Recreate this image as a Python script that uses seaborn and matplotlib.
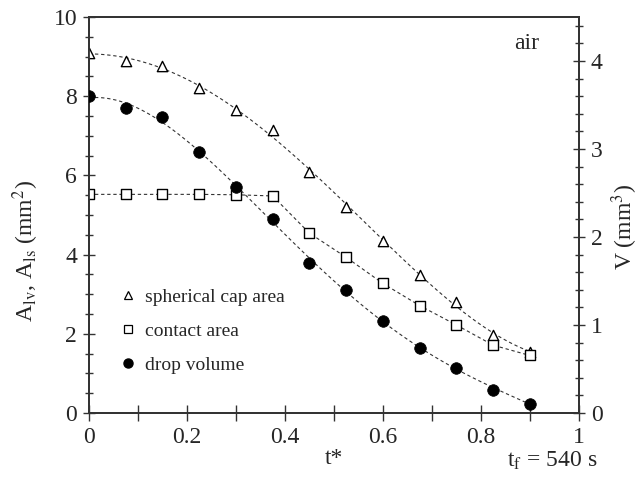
import numpy as np
import pandas as pd
import matplotlib
matplotlib.use("Agg")
import matplotlib.pyplot as plt
from matplotlib.lines import Line2D
from matplotlib.ticker import MultipleLocator
import seaborn as sns

# normalised time t* = t / t_f
t_star = [0.0, 0.075, 0.15, 0.225, 0.3, 0.375, 0.45, 0.525, 0.6, 0.675, 0.75, 0.825, 0.9]
# spherical cap (liquid-vapour) area, mm^2
cap_area = [9.10, 8.90, 8.76, 8.21, 7.64, 7.15, 6.09, 5.21, 4.33, 3.48, 2.80, 1.97, 1.55]
# contact (liquid-solid) area, mm^2
contact_area = [5.52, 5.52, 5.52, 5.52, 5.51, 5.48, 4.54, 3.93, 3.27, 2.71, 2.22, 1.71, 1.45]
# drop volume, mm^3
drop_volume = [3.60, 3.46, 3.36, 2.97, 2.57, 2.20, 1.70, 1.40, 1.05, 0.735, 0.515, 0.265, 0.106]

df = pd.DataFrame({"t": t_star, "cap": cap_area, "contact": contact_area, "vol": drop_volume})

sns.set_theme(style="ticks")
plt.rcParams["font.family"] = ["Liberation Serif", "DejaVu Serif"]
plt.rcParams["mathtext.fontset"] = "stix"
plt.rcParams["axes.edgecolor"] = "#333333"
plt.rcParams["axes.linewidth"] = 1.3

fig = plt.figure(figsize=(6.44, 4.79), dpi=100)
ax = fig.add_axes([0.138, 0.138, 0.761, 0.8265])
ax2 = ax.twinx()

dash = dict(color="#333333", lw=0.8, linestyle=(0, (3, 2.5)))

# smooth polynomial trend lines for cap area and volume, segmented line for contact area
sns.regplot(data=df, x="t", y="cap", ax=ax, order=4, ci=None, scatter=False,
            truncate=True, line_kws=dash)
sns.lineplot(data=df, x="t", y="contact", ax=ax, **dash)
sns.regplot(data=df, x="t", y="vol", ax=ax2, order=4, ci=None, scatter=False,
            truncate=True, line_kws=dash)

sns.scatterplot(data=df, x="t", y="cap", ax=ax, marker="^", s=55,
                facecolor="white", edgecolor="black", linewidth=1.0, zorder=5)
sns.scatterplot(data=df, x="t", y="contact", ax=ax, marker="s", s=60,
                facecolor="white", edgecolor="black", linewidth=1.0, zorder=5)
sns.scatterplot(data=df, x="t", y="vol", ax=ax2, marker="o", s=70,
                color="black", edgecolor="black", linewidth=0.5, zorder=5)

ax.set_xlim(0, 1)
ax.set_ylim(0, 10)
ax2.set_ylim(0, 4.5)

ax.set_xticks([0, 0.2, 0.4, 0.6, 0.8, 1.0])
ax.set_xticklabels(["0", "0.2", "0.4", "0.6", "0.8", "1"])
ax.set_xticks(np.arange(0.1, 1.0, 0.2), minor=True)
ax.yaxis.set_major_locator(MultipleLocator(2))
ax.yaxis.set_minor_locator(MultipleLocator(0.5))
ax2.yaxis.set_major_locator(MultipleLocator(1))
ax2.yaxis.set_minor_locator(MultipleLocator(0.2))

for a in (ax, ax2):
    a.tick_params(which="major", direction="inout", length=9, width=1.0,
                  labelsize=17, color="#333333", pad=4)
    a.tick_params(which="minor", direction="inout", length=6, width=1.0, color="#333333")
ax.tick_params(axis="x", which="both", length=11, pad=5)

ax.set_xlabel("t*", fontsize=17, labelpad=0)
ax.set_ylabel(r"A$_\mathrm{lv}$, A$_\mathrm{ls}$ (mm$^2$)", fontsize=17)
ax.yaxis.set_label_coords(-0.098, 0.41)
ax2.set_ylabel(r"V (mm$^3$)", fontsize=17)
ax2.yaxis.set_label_coords(1.062, 0.47)

ax.text(0.893, 0.933, "air", transform=ax.transAxes, fontsize=17, ha="center", va="center")
ax.text(0.946, -0.122, r"t$_\mathrm{f}$ = 540 s", transform=ax.transAxes, fontsize=17,
        ha="center", va="center")

handles = [
    Line2D([], [], marker="^", ls="none", mfc="white", mec="black", ms=6, mew=0.9),
    Line2D([], [], marker="s", ls="none", mfc="white", mec="black", ms=6, mew=0.9),
    Line2D([], [], marker="o", ls="none", mfc="black", mec="black", ms=6.5),
]
labels = ["spherical cap area", "contact area", "drop volume"]
ax.legend(handles, labels, loc="upper left", bbox_to_anchor=(0.04, 0.335), frameon=False,
          fontsize=14, handletextpad=0.3, labelspacing=0.85, handlelength=1.2,
          borderaxespad=0)

fig.savefig("out.png", dpi=100)
